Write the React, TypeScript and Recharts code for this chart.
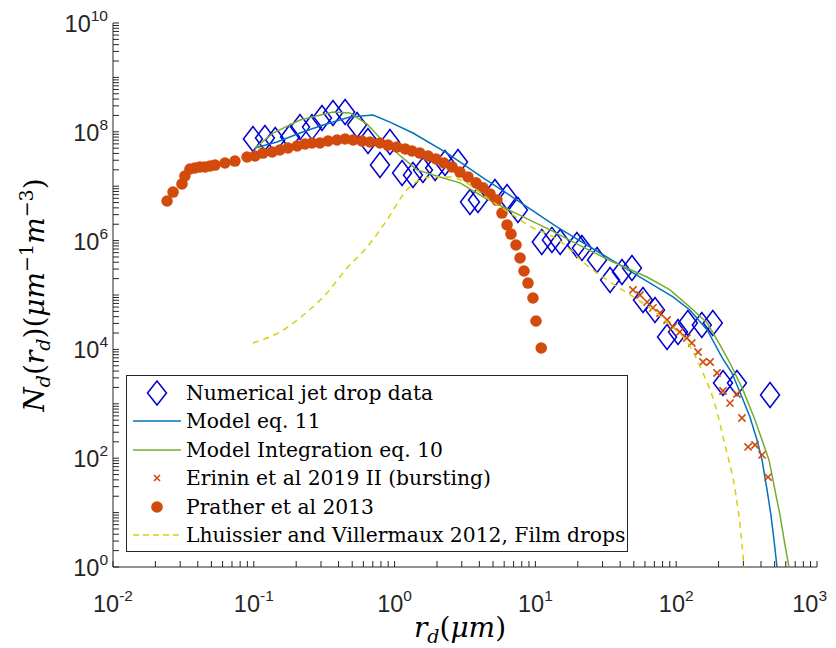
import React from 'react';
import { ComposedChart, Line, Scatter, XAxis, YAxis, Legend, Label } from 'recharts';

// ---- Numerical jet drop data (diamonds)
const jetR = [0.0986, 0.12, 0.142, 0.181, 0.213, 0.259, 0.305, 0.365, 0.445, 0.541, 0.647, 0.787, 0.927, 1.13, 1.35, 1.59, 1.94, 2.28, 2.82, 3.43, 3.91, 5.16, 6.29, 7.52, 11.1, 13.1, 15.0, 19.7, 21.4, 27.4, 33.9, 41.2, 48.5, 58.1, 70.7, 86.1, 103, 121, 152, 182, 215, 270, 464];
const jetN = [7.38e7, 7.7e7, 7.06e7, 8.0e7, 1.22e8, 1.22e8, 1.79e8, 2.22e8, 2.31e8, 1.33e8, 6.78e7, 2.45e7, 6.49e7, 1.75e7, 1.61e7, 1.99e7, 2.16e7, 2.67e7, 2.79e7, 5.13e6, 5.57e6, 7.8e6, 6.32e6, 3.65e6, 9.4e5, 1.03e6, 9.4e5, 8.3e5, 7.3e5, 4.4e5, 1.89e5, 2.65e5, 3.13e5, 8.1e4, 5.3e4, 1.69e4, 2.09e4, 3.05e4, 2.81e4, 3.05e4, 2.41e3, 2.41e3, 1.45e3];

// ---- Model eq. 11 (blue line)
const eq11R = [0.102, 0.146, 0.213, 0.31, 0.482, 0.703, 0.927, 1.35, 2.36, 4.25, 7.4, 14.2, 28.8, 65.2, 94.9, 125, 166, 211, 249, 293, 334, 375, 407, 442, 471, 495, 520];
const eq11N = [5.04e7, 6.49e7, 9.5e7, 1.33e8, 1.87e8, 2.04e8, 1.51e8, 9.5e7, 4.07e7, 1.42e7, 5.57e6, 1.78e6, 5.92e5, 1.66e5, 9.2e4, 5.3e4, 2.28e4, 7.2e3, 3.68e3, 1.33e3, 571, 216, 92.7, 26, 9.0, 3.13, 1];

// ---- Model Integration eq. 10 (green line)
const eq10R = [0.102, 0.137, 0.213, 0.365, 0.482, 0.637, 0.787, 1.04, 1.44, 2.1, 2.91, 4.25, 7.4, 12.7, 21.8, 35.6, 62.1, 90.4, 125, 166, 205, 241, 298, 363, 407, 456, 503, 546, 593, 632];
const eq10N = [5.04e7, 9.5e7, 1.65e8, 2.31e8, 2.22e8, 1.39e8, 7.7e7, 4.07e7, 1.99e7, 1.48e7, 1.15e7, 6.4e6, 3.1e6, 1.57e6, 7.6e5, 4.05e5, 2.14e5, 1.24e5, 6.0e4, 3.05e4, 1.2e4, 5.62e3, 1.8e3, 504, 216, 93, 26, 9.0, 2.5, 1];

// ---- Erinin et al 2019 II (bursting) (crosses)
const erininR = [49.3, 55.3, 62.1, 68.4, 76.7, 86.1, 94.9, 106, 119, 129, 143, 155, 174, 195, 215, 241, 270, 293, 324, 363, 407, 449];
const erininN = [1.24e5, 1.0e5, 7.4e4, 5.8e4, 4.67e4, 3.47e4, 2.58e4, 2.09e4, 1.62e4, 1.31e4, 8.96e3, 5.86e3, 5.86e3, 3.68e3, 1.72e3, 1.03e3, 1.51e3, 548, 161, 175, 115, 45];

// ---- Prather et al 2013 (filled circles)
const pratherR = [0.0242, 0.0267, 0.0309, 0.0324, 0.0352, 0.0382, 0.0415, 0.045, 0.0489, 0.053, 0.0624, 0.0734, 0.0895, 0.102, 0.116, 0.135, 0.153, 0.175, 0.203, 0.231, 0.259, 0.295, 0.337, 0.39, 0.445, 0.507, 0.586, 0.668, 0.787, 0.897, 1.04, 1.19, 1.33, 1.51, 1.73, 1.97, 2.24, 2.56, 2.91, 3.32, 3.79, 4.25, 4.76, 5.33, 5.79, 6.29, 6.71, 7.28, 7.78, 8.3, 8.86, 9.61, 10.1, 11.0];
const pratherN = [5.35e6, 7.8e6, 1.1e7, 1.54e7, 2.07e7, 2.16e7, 2.26e7, 2.26e7, 2.35e7, 2.45e7, 2.67e7, 2.9e7, 3.44e7, 3.59e7, 4.07e7, 4.25e7, 4.63e7, 5.04e7, 5.48e7, 5.97e7, 6.22e7, 6.22e7, 6.77e7, 7.07e7, 7.38e7, 7.07e7, 6.77e7, 6.49e7, 6.22e7, 5.71e7, 5.26e7, 4.83e7, 4.44e7, 4.07e7, 3.59e7, 3.16e7, 2.67e7, 2.26e7, 1.82e7, 1.48e7, 1.15e7, 9.3e6, 7.2e6, 5.57e6, 3.21e6, 1.94e6, 1.32e6, 8.3e5, 4.79e5, 2.76e5, 1.66e5, 8.8e4, 3.33e4, 1.06e4];

// ---- Lhuissier and Villermaux 2012, Film drops (dashed)
const filmR = [0.0986, 0.153, 0.239, 0.331, 0.459, 0.637, 0.883, 1.22, 1.51, 1.87, 2.47, 3.16, 4.76, 6.6, 9.6, 12.7, 16.2, 21.8, 32.3, 44.7, 65.2, 90.4, 121, 155, 189, 222, 262, 284, 303];
const filmN = [1.31e4, 2.09e4, 4.87e4, 1.09e5, 3.13e5, 7.6e5, 2.39e6, 8.5e6, 1.3e7, 1.48e7, 1.48e7, 1.19e7, 5.57e6, 3.21e6, 1.71e6, 1.27e6, 8.3e5, 4.05e5, 1.89e5, 1.09e5, 5.77e4, 2.81e4, 1.31e4, 3.68e3, 951, 175, 26, 5.9, 1];

// ---- axes / legend text
const xMajor = [0.01, 0.1, 1, 10, 100, 1000];
const yMajor = [1, 10, 100, 1e3, 1e4, 1e5, 1e6, 1e7, 1e8, 1e9, 1e10];
const yLabelled = [1, 100, 1e4, 1e6, 1e8, 1e10];
const legendNames = [
  'Numerical jet drop data',
  'Model eq. 11',
  'Model Integration eq. 10',
  'Erinin et al 2019 II (bursting)',
  'Prather et al 2013',
  'Lhuissier and Villermaux 2012, Film drops',
];

const C_DIAMOND = '#0000D0';
const C_BLUE = '#0072BD';
const C_GREEN = '#77AC30';
const C_ORANGE = '#D24B0C';
const C_YELLOW = '#D6CF10';
const C_AXIS = '#262626';

const zip = (xs: number[], ys: number[]) => xs.map((x, i) => ({ x, y: ys[i] }));
const jetData = zip(jetR, jetN);
const eq11Data = zip(eq11R, eq11N);
const eq10Data = zip(eq10R, eq10N);
const erininData = zip(erininR, erininN);
const pratherData = zip(pratherR, pratherN);
const filmData = zip(filmR, filmN);

const withMinor = (majors: number[]) => {
  const out: number[] = [...majors];
  for (let i = 0; i < majors.length - 1; i++) {
    for (let k = 2; k <= 9; k++) out.push(majors[i] * k);
  }
  return out.sort((a, b) => a - b);
};
const xTicks = withMinor(xMajor);
const yTicks = withMinor(yMajor);

const isPow = (v: number) => Math.abs(Math.log10(v) - Math.round(Math.log10(v))) < 1e-6;
const TICK_FONT = 'Liberation Sans, Arial, Helvetica, sans-serif';
const SERIF = 'DejaVu Serif, serif';

const BottomTick = (props: any) => {
  const { x, y, payload } = props;
  const v = payload.value;
  if (!isPow(v)) return <g />;
  const e = Math.round(Math.log10(v));
  const last = v === xMajor[xMajor.length - 1];
  return (
    <text x={last ? x + 10 : x} y={y} textAnchor={last ? 'end' : 'middle'} fontFamily={TICK_FONT} fill={C_AXIS}>
      <tspan fontSize={23.5}>10</tspan>
      <tspan fontSize={15.5} dy={-11}>{e}</tspan>
    </text>
  );
};

const LeftTick = (props: any) => {
  const { x, y, payload } = props;
  const v = payload.value;
  if (!yLabelled.some((t) => Math.abs(Math.log10(t) - Math.log10(v)) < 1e-6)) return <g />;
  const e = Math.round(Math.log10(v));
  return (
    <text x={x} y={y + 9} textAnchor="end" fontFamily={TICK_FONT} fill={C_AXIS}>
      <tspan fontSize={23.5}>10</tspan>
      <tspan fontSize={15.5} dy={-11}>{e}</tspan>
    </text>
  );
};

const NoTick = () => <g />;

const Diamond = (props: any) => {
  const { cx, cy } = props;
  if (cx == null || cy == null) return <g />;
  const w = 9.5, h = 12.5;
  return (
    <path d={`M${cx},${cy - h}L${cx + w},${cy}L${cx},${cy + h}L${cx - w},${cy}Z`} fill="none" stroke={C_DIAMOND} strokeWidth={1.5} />
  );
};
const Cross = (props: any) => {
  const { cx, cy } = props;
  if (cx == null || cy == null) return <g />;
  const s = 3.6;
  return (
    <path d={`M${cx - s},${cy - s}L${cx + s},${cy + s}M${cx - s},${cy + s}L${cx + s},${cy - s}`} stroke={C_ORANGE} strokeWidth={1.6} fill="none" />
  );
};
const Dot = (props: any) => {
  const { cx, cy } = props;
  if (cx == null || cy == null) return <g />;
  return <circle cx={cx} cy={cy} r={5.8} fill={C_ORANGE} stroke="none" />;
};

const XTitle = (props: any) => {
  const vb = props.viewBox || { x: 0, y: 0, width: 0, height: 0 };
  const cx = vb.x + vb.width / 2 - 5;
  const y = vb.y + 70;
  return (
    <text x={cx} y={y} textAnchor="middle" fontFamily={SERIF} fontSize={28} fill="#000">
      <tspan fontStyle="italic">r</tspan>
      <tspan fontStyle="italic" fontSize={19} dy={6}>d</tspan>
      <tspan dy={-6}>(</tspan>
      <tspan fontStyle="italic">μm</tspan>
      <tspan>)</tspan>
    </text>
  );
};

const YTitle = (props: any) => {
  const vb = props.viewBox || { x: 0, y: 0, width: 0, height: 0 };
  const cx = vb.x - 9;
  const cy = vb.y + vb.height / 2;
  return (
    <text x={cx} y={cy} textAnchor="middle" transform={`rotate(-90 ${cx} ${cy})`} fontFamily={SERIF} fontSize={28} fill="#000">
      <tspan fontStyle="italic">N</tspan>
      <tspan fontStyle="italic" fontSize={19} dy={6}>d</tspan>
      <tspan dy={-6}>(</tspan>
      <tspan fontStyle="italic">r</tspan>
      <tspan fontStyle="italic" fontSize={19} dy={6}>d</tspan>
      <tspan dy={-6}>)(</tspan>
      <tspan fontStyle="italic">μm</tspan>
      <tspan fontSize={19} dy={-11}>−1</tspan>
      <tspan fontStyle="italic" dy={11}>m</tspan>
      <tspan fontSize={19} dy={-11}>−3</tspan>
      <tspan dy={11}>)</tspan>
    </text>
  );
};

const LegendSymbol = ({ i }: { i: number }) => {
  const cy = 14;
  let el: any = null;
  if (i === 0) el = <path d={`M30,${cy - 12}L39.5,${cy}L30,${cy + 12}L20.5,${cy}Z`} fill="none" stroke={C_DIAMOND} strokeWidth={1.5} />;
  if (i === 1) el = <line x1={6} x2={54} y1={cy} y2={cy} stroke={C_BLUE} strokeWidth={1.5} />;
  if (i === 2) el = <line x1={6} x2={54} y1={cy} y2={cy} stroke={C_GREEN} strokeWidth={1.5} />;
  if (i === 3) el = <path d={`M27,${cy - 3}L33,${cy + 3}M27,${cy + 3}L33,${cy - 3}`} stroke={C_ORANGE} strokeWidth={1.6} />;
  if (i === 4) el = <circle cx={30} cy={cy} r={5.8} fill={C_ORANGE} />;
  if (i === 5) el = <line x1={6} x2={54} y1={cy} y2={cy} stroke={C_YELLOW} strokeWidth={1.5} strokeDasharray="6 4" />;
  return (
    <svg width={58} height={28} style={{ display: 'block', flex: '0 0 auto' }}>
      {el}
    </svg>
  );
};

const LegendBox = () => (
  <div
    style={{
      position: 'relative',
      width: 500,
      height: 175,
      border: `1px solid ${C_AXIS}`,
      background: '#fff',
      fontFamily: SERIF,
      fontSize: 20.3,
      color: '#000',
    }}
  >
    {legendNames.map((name, i) => (
      <div
        key={name}
        style={{ position: 'absolute', left: 0, top: 3 + i * 28.4, height: 28, display: 'flex', alignItems: 'center', whiteSpace: 'nowrap' }}
      >
        <LegendSymbol i={i} />
        <span style={{ marginLeft: 1, lineHeight: '28px' }}>{name}</span>
      </div>
    ))}
  </div>
);

export default function App() {
  return (
    <div style={{ width: 820, height: 640, background: '#fff' }}>
      <ComposedChart width={820} height={640} margin={{ top: 15, right: 11, bottom: 41, left: 45 }}>
        <XAxis
          dataKey="x"
          type="number"
          scale="log"
          domain={[0.01, 1000]}
          allowDataOverflow
          ticks={xTicks}
          interval={0}
          tick={<BottomTick />}
          tickSize={-6}
          tickMargin={51}
          height={40}
          stroke={C_AXIS}
        >
          <Label content={<XTitle />} />
        </XAxis>
        <XAxis
          xAxisId="top"
          orientation="top"
          dataKey="x"
          type="number"
          scale="log"
          domain={[0.01, 1000]}
          allowDataOverflow
          ticks={xTicks}
          interval={0}
          tick={<NoTick />}
          tickSize={-6}
          height={0}
          stroke={C_AXIS}
        />
        <YAxis
          dataKey="y"
          type="number"
          scale="log"
          domain={[1, 1e10]}
          allowDataOverflow
          ticks={yTicks}
          interval={0}
          tick={<LeftTick />}
          tickSize={-6}
          tickMargin={11}
          width={60}
          stroke={C_AXIS}
        >
          <Label content={<YTitle />} />
        </YAxis>
        <YAxis
          yAxisId="right"
          orientation="right"
          dataKey="y"
          type="number"
          scale="log"
          domain={[1, 1e10]}
          allowDataOverflow
          ticks={yTicks}
          interval={0}
          tick={<NoTick />}
          tickSize={-6}
          width={0}
          stroke={C_AXIS}
        />
        <Scatter data={jetData} dataKey="y" shape={<Diamond />} isAnimationActive={false} legendType="none" zIndex={600} />
        <Line data={eq11Data} dataKey="y" type="linear" stroke={C_BLUE} strokeWidth={1.5} dot={false} activeDot={false} isAnimationActive={false} legendType="none" zIndex={601} />
        <Line data={eq10Data} dataKey="y" type="linear" stroke={C_GREEN} strokeWidth={1.5} dot={false} activeDot={false} isAnimationActive={false} legendType="none" zIndex={602} />
        <Scatter data={erininData} dataKey="y" shape={<Cross />} isAnimationActive={false} legendType="none" zIndex={603} />
        <Scatter data={pratherData} dataKey="y" shape={<Dot />} isAnimationActive={false} legendType="none" zIndex={604} />
        <Line data={filmData} dataKey="y" type="monotone" stroke={C_YELLOW} strokeWidth={1.5} strokeDasharray="6 5" dot={false} activeDot={false} isAnimationActive={false} legendType="none" zIndex={605} />
        <Legend
          layout="vertical"
          align="center"
          verticalAlign="middle"
          content={<LegendBox />}
          wrapperStyle={{ position: 'absolute', left: 118, top: 367, width: 502, height: 177 }}
        />
      </ComposedChart>
    </div>
  );
}
